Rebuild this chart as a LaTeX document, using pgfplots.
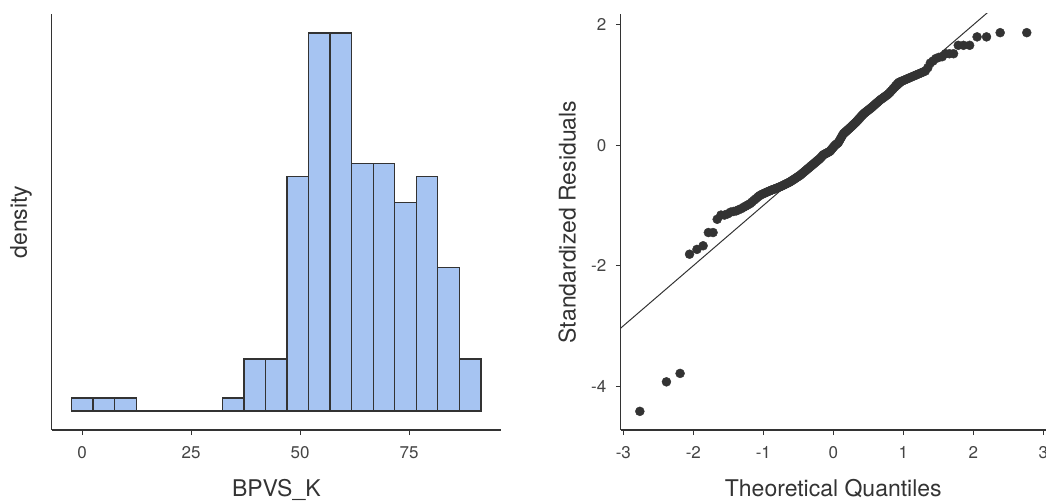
\documentclass[border=0pt]{standalone}
\usepackage{pgfplots}
\pgfplotsset{compat=1.18}
\usepackage{pgfplotstable}
\usepackage{fontspec}
\setmainfont{TeX Gyre Heros}
\definecolor{axc}{HTML}{333333}
\definecolor{tkc}{HTML}{444444}
\definecolor{barfill}{HTML}{A6C4F2}
\pgfplotstableread{
x y
-2.764 -4.42
-2.384 -3.93
-2.189 -3.79
-2.054 -1.81
-1.948 -1.73
-1.860 -1.67
-1.785 -1.45
-1.718 -1.45
-1.659 -1.23
-1.605 -1.16
-1.555 -1.16
-1.508 -1.14
-1.465 -1.11
-1.425 -1.10
-1.386 -1.09
-1.350 -1.07
-1.315 -1.053
-1.282 -1.031
-1.250 -1.01
-1.219 -0.989
-1.189 -0.97
-1.161 -0.942
-1.133 -0.914
-1.106 -0.888
-1.080 -0.862
-1.055 -0.838
-1.030 -0.821
-1.007 -0.809
-0.983 -0.796
-0.960 -0.784
-0.937 -0.772
-0.915 -0.761
-0.894 -0.750
-0.873 -0.741
-0.852 -0.732
-0.832 -0.723
-0.812 -0.714
-0.792 -0.704
-0.772 -0.695
-0.753 -0.686
-0.734 -0.675
-0.716 -0.665
-0.697 -0.654
-0.679 -0.644
-0.661 -0.633
-0.643 -0.623
-0.626 -0.613
-0.608 -0.601
-0.591 -0.588
-0.574 -0.575
-0.557 -0.562
-0.541 -0.550
-0.524 -0.537
-0.508 -0.524
-0.492 -0.512
-0.476 -0.500
-0.460 -0.484
-0.444 -0.469
-0.428 -0.453
-0.412 -0.437
-0.397 -0.423
-0.381 -0.407
-0.366 -0.392
-0.351 -0.378
-0.335 -0.362
-0.320 -0.347
-0.305 -0.333
-0.290 -0.318
-0.276 -0.304
-0.261 -0.290
-0.246 -0.275
-0.231 -0.260
-0.217 -0.246
-0.202 -0.232
-0.187 -0.216
-0.173 -0.198
-0.158 -0.179
-0.144 -0.161
-0.129 -0.151
-0.115 -0.142
-0.100 -0.133
-0.086 -0.124
-0.072 -0.116
-0.057 -0.106
-0.043 -0.094
-0.029 -0.075
-0.014 -0.053
0.000 -0.034
0.014 -0.014
0.029 0.004
0.043 0.017
0.057 0.029
0.072 0.044
0.086 0.073
0.100 0.102
0.115 0.132
0.129 0.161
0.144 0.191
0.158 0.205
0.173 0.221
0.187 0.235
0.202 0.251
0.217 0.266
0.231 0.281
0.246 0.297
0.261 0.313
0.276 0.330
0.290 0.346
0.305 0.362
0.320 0.379
0.335 0.397
0.351 0.417
0.366 0.437
0.381 0.456
0.397 0.477
0.412 0.497
0.428 0.517
0.444 0.533
0.460 0.548
0.476 0.562
0.492 0.577
0.508 0.591
0.524 0.606
0.541 0.622
0.557 0.637
0.574 0.655
0.591 0.672
0.608 0.690
0.626 0.708
0.643 0.725
0.661 0.744
0.679 0.760
0.697 0.775
0.716 0.791
0.734 0.806
0.753 0.822
0.772 0.838
0.792 0.858
0.812 0.883
0.832 0.908
0.852 0.934
0.873 0.962
0.894 0.991
0.915 1.019
0.937 1.044
0.960 1.055
0.983 1.067
1.007 1.078
1.030 1.090
1.055 1.103
1.080 1.115
1.106 1.128
1.133 1.142
1.161 1.156
1.189 1.170
1.219 1.185
1.250 1.200
1.282 1.216
1.315 1.233
1.350 1.288
1.386 1.365
1.425 1.400
1.465 1.440
1.508 1.460
1.555 1.470
1.605 1.520
1.659 1.520
1.718 1.520
1.785 1.660
1.860 1.660
1.948 1.660
2.054 1.800
2.189 1.800
2.384 1.870
2.764 1.870
}\qqdata
\pgfplotstableread{
x y
-2.44 1
2.503 1
7.446 1
12.389 0
17.332 0
22.275 0
27.218 0
32.161 1
37.104 4
42.047 4
46.99 18
51.933 29
56.876 29
61.819 19
66.762 19
71.705 16
76.648 18
81.591 11
86.534 4
91.477 4
}\histdata
\pgfplotsset{
  myaxis/.style={
    scale only axis,
    anchor=south west,
    axis x line=bottom,
    axis y line=left,
    axis line style={-, line width=1.1bp, draw=axc},
    tick style={line width=1.1bp, draw=axc},
    tick align=outside,
    major tick length=5bp,
    ticklabel style={font=\fontsize{17bp}{20bp}\selectfont, text=tkc},
    xticklabel style={yshift=-8bp},
    yticklabel style={xshift=-6bp},
    label style={font=\fontsize{23bp}{27bp}\selectfont, text=axc},
    xlabel style={at={(axis description cs:0.5,-0.1603)}, anchor=base},
  }
}
\begin{document}
\begin{tikzpicture}
\useasboundingbox (0,0) rectangle (1046bp,502bp);
\begin{axis}[myaxis,
  at={(51.7bp,72bp)}, width=449.3bp, height=416bp,
  xmin=-7.0, xmax=96.1, ymin=-1.45, ymax=30.45,
  xtick={0,25,50,75}, xticklabels={0,25,50,75}, ytick=\empty,
  xlabel={BPVS\_K}, ylabel={density},
  ylabel style={at={(axis description cs:-0.055,0.5)}, anchor=base},
]
\addplot[ybar interval, fill=barfill, draw=none] table[x=x, y=y] {\histdata};
\addplot[ybar interval, fill=none, draw=axc, line width=1.3bp] table[x=x, y=y] {\histdata};
\end{axis}
\begin{axis}[myaxis,
  at={(620.8bp,72bp)}, width=425bp, height=416bp,
  xmin=-3.036, xmax=3.036, ymin=-4.73, ymax=2.18,
  xtick={-3,-2,-1,0,1,2,3}, xticklabels={-3,-2,-1,0,1,2,3},
  ytick={-4,-2,0,2}, yticklabels={-4,-2,0,2},
  xlabel={Theoretical Quantiles}, ylabel={Standardized Residuals},
  ylabel style={at={(axis description cs:-0.1066,0.5)}, anchor=base},
]
\addplot[only marks, mark=*, mark size=4.5bp, mark options={fill=axc, draw=none}, color=axc] table[x=x, y=y] {\qqdata};
\addplot[axc, line width=1bp, no marks] coordinates {(-3.1,-3.1) (2.3,2.3)};
\end{axis}
\end{tikzpicture}
\end{document}
